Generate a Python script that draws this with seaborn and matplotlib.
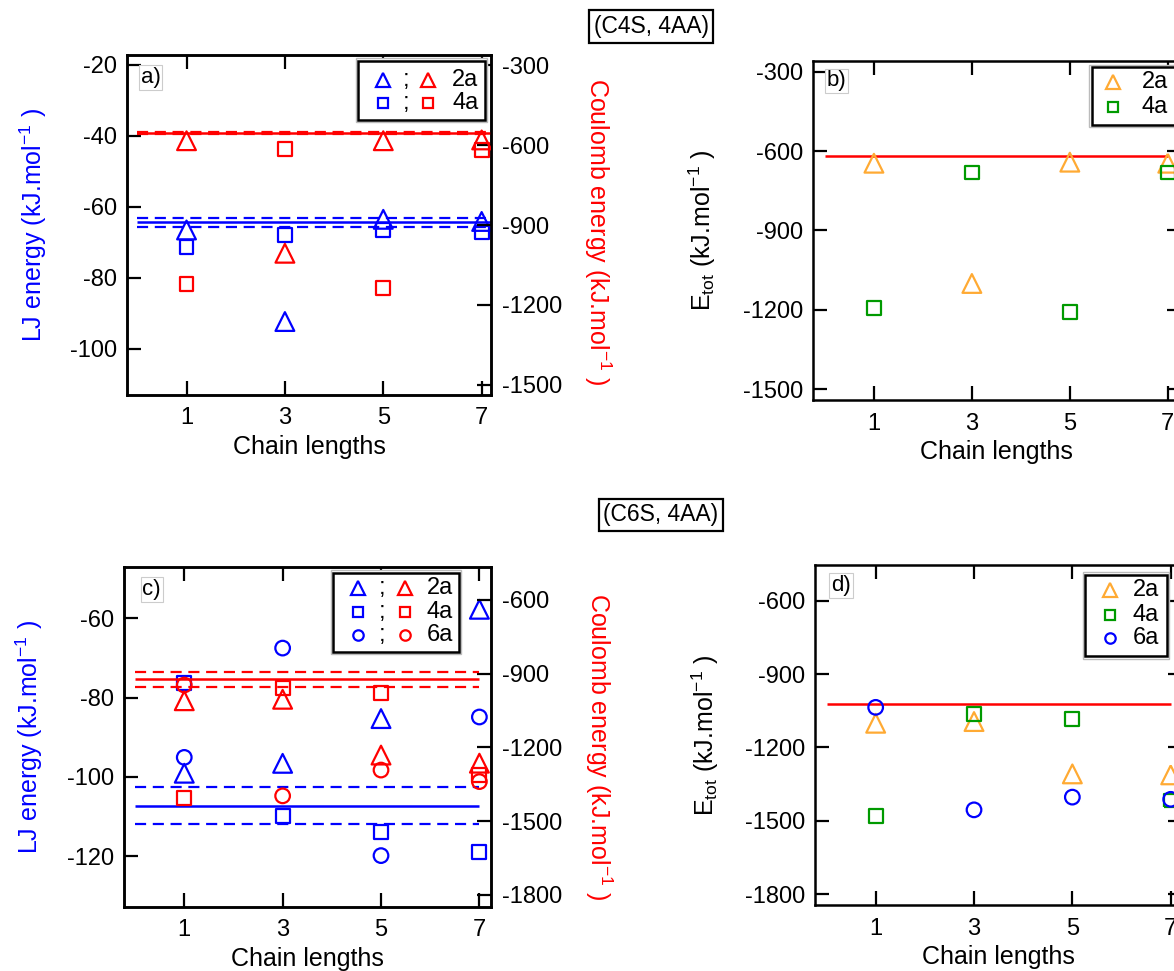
import matplotlib
matplotlib.use('Agg')
import matplotlib.pyplot as plt
from matplotlib.patches import Rectangle
import seaborn as sns

# chain lengths on the x axis
chain = [1, 3, 5, 7]

# (C4S, 4AA) -- LJ energies (left axis), Coulomb energies (right axis)
lj_c4s_2a = [-66.5, -92.3, -63.5, -64.1]
lj_c4s_4a = [-71.4, -67.9, -66.5, -67.2]
coul_c4s_2a = [-584, -1006, -584, -581]
coul_c4s_4a = [-1122, -616, -1135, -619]
lj_c4s_ref = [-64.3, -63.0, -65.6]      # mean, upper, lower
coul_c4s_ref = [-555, -550, -560]

# (C4S, 4AA) -- total energies
etot_c4s_2a = [-646, -1100, -642, -646]
etot_c4s_4a = [-1194, -681, -1208, -681]
etot_c4s_ref = -618

# (C6S, 4AA)
lj_c6s_2a = [-99.1, -96.6, -85.3, -57.7]
lj_c6s_4a = [-76.4, -109.9, -113.9, -118.9]
lj_c6s_6a = [-95.1, -67.5, -119.9, -84.9]
coul_c6s_2a = [-1010, -1004, -1231, -1264]
coul_c6s_4a = [-1407, -959, -977, -1312]
coul_c6s_6a = [-946, -1397, -1292, -1339]
lj_c6s_ref = [-107.3, -102.5, -112.0]
coul_c6s_ref = [-921, -891, -953]

etot_c6s_2a = [-1101, -1094, -1308, -1312]
etot_c6s_4a = [-1480, -1063, -1083, -1417]
etot_c6s_6a = [-1036, -1455, -1403, -1412]
etot_c6s_ref = -1022

BLUE = '#0000FF'
RED = '#FF0000'
ORANGE = '#FFAA33'
GREEN = '#009A00'
FS = 17
LFS = 18
MS = {'^': 13.5, 's': 10, 'o': 10.5}
LEG_MS = {'^': 9.5, 's': 7, 'o': 7.5}

sns.set_theme(style='white')
plt.rcParams['font.family'] = ['Liberation Sans', 'DejaVu Sans']
plt.rcParams['axes.unicode_minus'] = False
plt.rcParams['text.color'] = 'black'
plt.rcParams['axes.labelcolor'] = 'black'
plt.rcParams['mathtext.fontset'] = 'custom'
plt.rcParams['mathtext.rm'] = 'Liberation Sans'
plt.rcParams['mathtext.it'] = 'Liberation Sans:italic'
plt.rcParams['mathtext.bf'] = 'Liberation Sans:bold'

W, H = 1174, 971
fig = plt.figure(figsize=(W / 100, H / 100), dpi=100)


def px_axes(x0, y0, x1, y1):
    """Axes from pixel box (top-left origin)."""
    return fig.add_axes([x0 / W, 1 - y1 / H, (x1 - x0) / W, (y1 - y0) / H])


def scatter(ax, y, marker, color):
    sns.scatterplot(x=chain, y=y, marker=marker, s=MS[marker] ** 2,
                    facecolor='none', edgecolor=color, color=color,
                    linewidth=1.6, legend=False, zorder=3, ax=ax)


def ref_lines(ax, ref, color, xmax=7):
    ax.hlines(ref[0], 0, xmax, color=color, lw=1.8, zorder=2)
    ax.hlines(ref[1:], 0, xmax, color=color, lw=1.6,
              linestyles=(0, (5, 3)), zorder=2)


def style_axes(ax, right=True):
    for sp in ax.spines.values():
        sp.set_color('black')
        sp.set_linewidth(1.8)
    ax.tick_params(axis='both', direction='in', length=10, width=1.6,
                   top=True, bottom=True, left=True, right=right,
                   labelsize=FS, colors='black', pad=7)
    ax.tick_params(axis='x', pad=9)
    ax.set_xticks(chain)
    ax.grid(False)


def frame_box(ax, x0, y0, x1, y1):
    ax.add_patch(Rectangle((x0 - 0.006, y0 - 0.007), x1 - x0 + 0.012, y1 - y0 + 0.014,
                           transform=ax.transAxes, fc='white', ec='#BBBBBB',
                           lw=1.0, zorder=9, clip_on=False))
    ax.add_patch(Rectangle((x0, y0), x1 - x0, y1 - y0, transform=ax.transAxes,
                           fc='white', ec='black', lw=1.8, zorder=10, clip_on=False))


def leg_marker(ax, x, y, marker, color):
    ax.plot([x], [y], marker=marker, ms=LEG_MS[marker], mfc='none', mec=color,
            mew=1.6, transform=ax.transAxes, zorder=11, clip_on=False)


def pair_legend(ax, box, xs, rows):
    frame_box(ax, *box)
    bx, sx, rx, lx = xs
    for (marker, label), y in rows:
        leg_marker(ax, bx, y, marker, BLUE)
        ax.text(sx, y, ';', fontsize=FS, ha='center', va='center',
                transform=ax.transAxes, zorder=11)
        leg_marker(ax, rx, y, marker, RED)
        ax.text(lx, y, label, fontsize=FS, ha='left', va='center',
                transform=ax.transAxes, zorder=11)


def single_legend(ax, box, xs, rows):
    frame_box(ax, *box)
    mx, lx = xs
    for (marker, color, label), y in rows:
        leg_marker(ax, mx, y, marker, color)
        ax.text(lx, y, label, fontsize=FS, ha='left', va='center',
                transform=ax.transAxes, zorder=11)


def panel_tag(ax, x, y, tag):
    ax.text(x, y, tag, fontsize=FS - 1, ha='left', va='top', transform=ax.transAxes,
            zorder=11, bbox=dict(boxstyle='square,pad=0.08', fc='white',
                                 ec='#CCCCCC', lw=0.8))


LJ_LABEL = 'LJ energy (kJ.mol$^{-1}$ )'
COUL_LABEL = 'Coulomb energy (kJ.mol$^{-1}$ )'
ETOT_LABEL = 'E$_{\\mathrm{tot}}$ (kJ.mol$^{-1}$ )'


def twin_panel(box, lj, coul, lj_ref, coul_ref, xlim, lj_lim, lj_ticks,
               c_lim, c_ticks, line_end, label_y):
    ax = px_axes(*box)
    ax2 = ax.twinx()
    ref_lines(ax, lj_ref, BLUE, line_end)
    ref_lines(ax2, coul_ref, RED, line_end)
    for y, m in lj:
        scatter(ax, y, m, BLUE)
    for y, m in coul:
        scatter(ax2, y, m, RED)
    ax.set_xlim(*xlim)
    ax.set_ylim(*lj_lim)
    ax.set_yticks(lj_ticks)
    ax2.set_ylim(*c_lim)
    ax2.set_yticks(c_ticks)
    style_axes(ax, right=False)
    style_axes(ax2)
    ax2.tick_params(axis='y', left=False, right=True, labelright=True, pad=8)
    ax2.tick_params(axis='x', top=False, bottom=False)
    ax.set_xlabel('Chain lengths', fontsize=LFS, va='center')
    ax.xaxis.set_label_coords(0.5, -0.153)
    ax.set_ylabel(LJ_LABEL, fontsize=LFS, color=BLUE, va='center')
    ax.yaxis.set_label_coords(-0.258, label_y[0])
    ax2.set_ylabel(COUL_LABEL, fontsize=LFS, color=RED, rotation=270,
                   va='center', ha='center')
    ax2.yaxis.set_label_coords(1.294, label_y[1])
    return ax, ax2


def etot_panel(box, series, ref, xlim, ylim, ticks):
    ax = px_axes(*box)
    ax.hlines(ref, 0, 7, color=RED, lw=1.8, zorder=2)
    for y, m, c in series:
        scatter(ax, y, m, c)
    ax.set_xlim(*xlim)
    ax.set_ylim(*ylim)
    ax.set_yticks(ticks)
    style_axes(ax)
    ax.set_xlabel('Chain lengths', fontsize=LFS, va='center')
    ax.xaxis.set_label_coords(0.5, -0.153)
    ax.set_ylabel(ETOT_LABEL, fontsize=LFS, color='black', va='center')
    ax.yaxis.set_label_coords(-0.30, 0.5)
    return ax


# ---- a) ----
ax_a, ax_a2 = twin_panel((127, 55, 491, 395),
                         [(lj_c4s_2a, '^'), (lj_c4s_4a, 's')],
                         [(coul_c4s_2a, '^'), (coul_c4s_4a, 's')],
                         lj_c4s_ref, coul_c4s_ref, (-0.21, 7.19),
                         (-113, -17.2), [-100, -80, -60, -40, -20],
                         (-1537.5, -262.5), [-1500, -1200, -900, -600, -300],
                         7.2, (0.5, 0.48))
pair_legend(ax_a2, (0.635, 0.809, 0.984, 0.983), (0.704, 0.767, 0.828, 0.893),
            [(('^', '2a'), 0.926), (('s', '4a'), 0.858)])
panel_tag(ax_a2, 0.038, 0.965, 'a)')

# ---- b) ----
ax_b = etot_panel((812.7, 61, 1181, 400),
                  [(etot_c4s_2a, '^', ORANGE), (etot_c4s_4a, 's', GREEN)],
                  etot_c4s_ref, (-0.25, 7.27), (-1540, -260),
                  [-1500, -1200, -900, -600, -300])
single_legend(ax_b, (0.7575, 0.811, 0.99, 0.981), (0.8165, 0.893),
              [(('^', ORANGE, '2a'), 0.937), (('s', GREEN, '4a'), 0.863)])
panel_tag(ax_b, 0.038, 0.972, 'b)')

# ---- c) ----
ax_c, ax_c2 = twin_panel((124, 567.3, 490.7, 906.7),
                         [(lj_c6s_2a, '^'), (lj_c6s_4a, 's'), (lj_c6s_6a, 'o')],
                         [(coul_c6s_2a, '^'), (coul_c6s_4a, 's'), (coul_c6s_6a, 'o')],
                         lj_c6s_ref, coul_c6s_ref, (-0.225, 7.23),
                         (-132.8, -47.1), [-120, -100, -80, -60],
                         (-1848, -467), [-1800, -1500, -1200, -900, -600],
                         7, (0.5, 0.47))
pair_legend(ax_c2, (0.571, 0.751, 0.914, 0.984), (0.639, 0.703, 0.766, 0.826),
            [(('^', '2a'), 0.938), (('s', '4a'), 0.867), (('o', '6a'), 0.800)])
panel_tag(ax_c2, 0.05, 0.965, 'c)')

# ---- d) ----
ax_d = etot_panel((815, 565, 1182, 905),
                  [(etot_c6s_2a, '^', ORANGE), (etot_c6s_4a, 's', GREEN),
                   (etot_c6s_6a, 'o', BLUE)],
                  etot_c6s_ref, (-0.234, 7.23), (-1844, -454),
                  [-1800, -1500, -1200, -900, -600])
single_legend(ax_d, (0.7357, 0.732, 0.958, 0.971), (0.804, 0.866),
              [(('^', ORANGE, '2a'), 0.926), (('s', GREEN, '4a'), 0.853),
               (('o', BLUE, '6a'), 0.784)])
panel_tag(ax_d, 0.044, 0.97, 'd)')

# system titles
for txt, (cx, cy) in [('(C4S, 4AA)', (651, 26.5)), ('(C6S, 4AA)', (661, 515))]:
    fig.text(cx / W, 1 - cy / H, txt, fontsize=FS - 0.5, ha='center', va='center',
             color='black',
             bbox=dict(boxstyle='square,pad=0.2', fc='white', ec='black', lw=1.6))

fig.savefig('out.png', dpi=100)
